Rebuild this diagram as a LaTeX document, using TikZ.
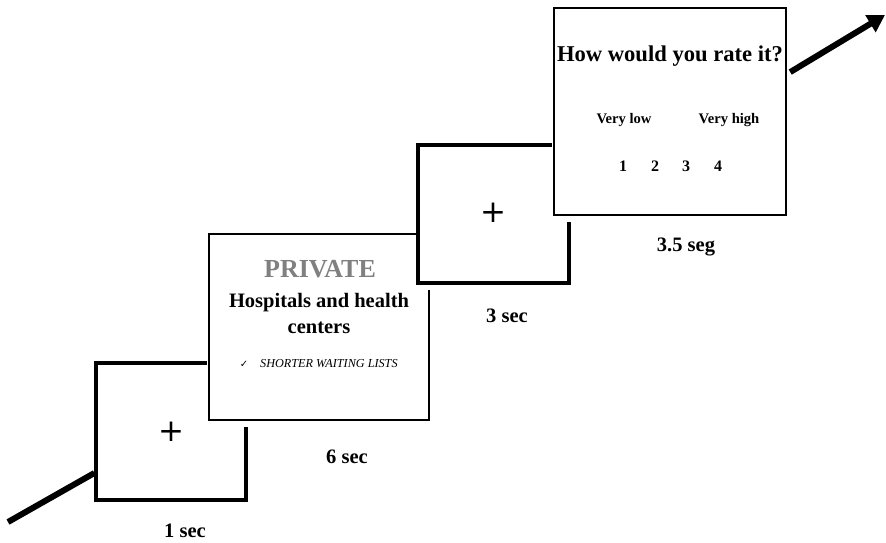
\documentclass[tikz,border=0pt]{standalone}
\usepackage{fontspec}
\setmainfont{Liberation Serif}
\newfontfamily\symfont{DejaVu Sans}
\usetikzlibrary{arrows.meta,calc}
\definecolor{privgray}{RGB}{128,128,128}
\tikzset{
  screenthick/.style={draw=black, fill=white, line width=3.2pt, inner sep=0pt, rectangle},
  screenthin/.style={draw=black, fill=white, line width=2.2pt, inner sep=0pt, rectangle},
  txt/.style={font=\bfseries, inner sep=0pt, anchor=base},
  durlabel/.style={font=\fontsize{20.5}{24}\selectfont\bfseries, inner sep=0pt, anchor=base},
  fixcross/.style={font=\symfont\fontsize{31}{31}\selectfont, inner sep=0pt, anchor=center},
  flowline/.style={line width=6pt},
}
\newcommand{\screenmask}[1]{%
  \fill[white] ($(#1.north west)+(-2,-2)$) rectangle ($(#1.south east)+(3,7)$);}
\begin{document}
\begin{tikzpicture}[x=1pt,y=-1pt]
\useasboundingbox (0,0) rectangle (886,543);
% screen 1
\node[screenthick, minimum width=150pt, minimum height=137pt] (s1) at (171,431.5) {};
\node[fixcross] (c1) at (171,432) {+};
% screen 2
\node[inner sep=0pt, minimum width=220pt, minimum height=186pt] (s2) at (319,327) {};
\screenmask{s2}
\node[screenthin, minimum width=220pt, minimum height=186pt] at (319,327) {};
\node[txt, font=\fontsize{26}{30}\selectfont\bfseries, text=privgray] (priv) at (320,277) {PRIVATE};
\node[txt, font=\fontsize{20.5}{24}\selectfont\bfseries] (hosp1) at (319,307) {Hospitals and health};
\node[txt, font=\fontsize{20.5}{24}\selectfont\bfseries] (hosp2) at (319,333) {centers};
\node[inner sep=0pt, anchor=base, font=\symfont\fontsize{10}{11}\selectfont] (chk) at (244,367) {✓};
\node[inner sep=0pt, anchor=base west, font=\fontsize{12.2}{14}\selectfont\itshape] (short) at (260,367) {SHORTER WAITING LISTS};
% screen 3
\node[inner sep=0pt, minimum width=151pt, minimum height=138pt] (s3) at (493.5,214) {};
\screenmask{s3}
\node[screenthick, minimum width=151pt, minimum height=138pt] at (493.5,214) {};
\node[fixcross] (c3) at (493,213) {+};
% screen 4
\node[inner sep=0pt, minimum width=232pt, minimum height=207pt] (s4) at (670,111.5) {};
\screenmask{s4}
\node[screenthin, minimum width=232pt, minimum height=207pt] at (670,111.5) {};
\node[txt, font=\fontsize{22.6}{26}\selectfont\bfseries] (q) at (670,62) {How would you rate it?};
\node[txt, font=\fontsize{14.6}{16}\selectfont\bfseries] (lo) at (624,123) {Very low};
\node[txt, font=\fontsize{14.6}{16}\selectfont\bfseries] (hi) at (729,123) {Very high};
\node[txt, font=\fontsize{16}{18}\selectfont\bfseries] (n1) at (623,171) {1};
\node[txt, font=\fontsize{16}{18}\selectfont\bfseries] (n2) at (655,171) {2};
\node[txt, font=\fontsize{16}{18}\selectfont\bfseries] (n3) at (686,171) {3};
\node[txt, font=\fontsize{16}{18}\selectfont\bfseries] (n4) at (718,171) {4};
% durations
\node[durlabel] (d1) at (185,537) {1 sec};
\node[durlabel] (d2) at (347,463) {6 sec};
\node[durlabel] (d3) at (507,322) {3 sec};
\node[durlabel] (d4) at (686,251) {3.5 seg};
% flow arrows
\coordinate (start) at (8,522);
\coordinate (finish) at (885,15);
\draw[flowline] (start) -- ($(s1.south west)!0.204!(s1.north west)$);
\draw[flowline, -{Triangle[length=17pt,width=19pt]}] ($(s4.north east)!0.31!(s4.south east)+(4,0)$) -- (finish);
\end{tikzpicture}
\end{document}
